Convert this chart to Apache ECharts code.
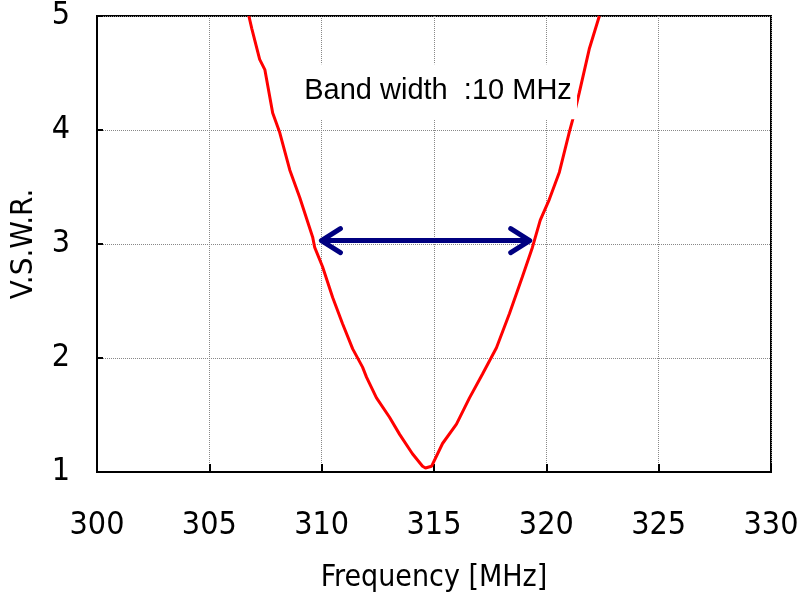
<!DOCTYPE html>
<html>
<head>
<meta charset="utf-8">
<script src="https://cdn.jsdelivr.net/npm/echarts@6/dist/echarts.min.js"></script>
<style>html,body{margin:0;padding:0;background:#fff}#c{width:811px;height:595px}</style>
</head>
<body>
<div id="c"></div>
<script>
var freq = [306.76,306.89,307.24,307.47,307.82,308.13,308.58,309.02,309.60,309.69,310.04,310.49,310.93,311.38,311.82,312.00,312.44,313.02,313.47,314.04,314.49,314.62,314.89,315.38,316.00,316.58,317.16,317.78,318.36,318.93,319.38,319.73,320.13,320.58,321.02,321.24,321.47,321.91,322.36];
var vswr = [5.00,4.89,4.62,4.53,4.15,3.98,3.65,3.41,3.06,2.97,2.80,2.53,2.30,2.08,1.92,1.83,1.65,1.48,1.33,1.16,1.05,1.035,1.05,1.25,1.42,1.65,1.86,2.09,2.39,2.71,2.97,3.21,3.39,3.63,3.98,4.14,4.33,4.71,5.00];
var xTicks = [300,305,310,315,320,325,330];
var yTicks = [1,2,3,4,5];
var arrowFreq = [309.9, 319.35];
var arrowVswr = 3.03;
var noteText = 'Band width  :10 MHz';
var notePos = [315.18, 4.34];

var NARROW = "'Liberation Sans Narrow','DejaVu Sans Condensed','Liberation Sans',sans-serif";
var chart = echarts.init(document.getElementById('c'), null, {renderer:'canvas'});
var lineData = freq.map(function(f,i){return [f, vswr[i]];});
chart.setOption({
  animation:false,
  backgroundColor:'#fff',
  grid:{left:97,right:40,top:16,bottom:123,containLabel:false,outerBoundsMode:'none',
    show:true,borderColor:'#000',borderWidth:2,backgroundColor:'transparent'},
  xAxis:{type:'value',min:xTicks[0],max:xTicks[xTicks.length-1],interval:5,
    name:'Frequency [MHz]',nameLocation:'middle',nameGap:91,
    nameTextStyle:{fontFamily:NARROW,fontSize:30,color:'#000'},
    axisLine:{lineStyle:{color:'#000',width:2}},
    axisTick:{inside:true,length:8,lineStyle:{color:'#000',width:2}},
    axisLabel:{margin:38,fontFamily:NARROW,fontSize:32,color:'#000'},
    splitLine:{show:true,lineStyle:{color:'#888',type:[1,1],width:1}}},
  yAxis:{type:'value',min:yTicks[0],max:yTicks[yTicks.length-1],interval:1,
    name:'V.S.W.R.',nameLocation:'middle',nameGap:58,nameRotate:90,
    nameTextStyle:{fontFamily:NARROW,fontSize:31,color:'#000'},
    axisLine:{lineStyle:{color:'#000',width:2}},
    axisTick:{inside:true,length:6,lineStyle:{color:'#000',width:2}},
    axisLabel:{margin:27,fontFamily:NARROW,fontSize:32,color:'#000'},
    splitLine:{show:true,lineStyle:{color:'#888',type:[1,1],width:1}}},
  series:[
    {type:'line',data:lineData,showSymbol:false,symbol:'none',smooth:false,clip:true,
     lineStyle:{color:'#ff0000',width:3},z:3},
    {type:'custom',coordinateSystem:'cartesian2d',z:10,clip:false,
     data:[[arrowFreq[0],arrowVswr,arrowFreq[1],notePos[0],notePos[1]]],
     renderItem:function(params,api){
       var p1 = api.coord([api.value(0),api.value(1)]);
       var p2 = api.coord([api.value(2),api.value(1)]);
       var pn = api.coord([api.value(3),api.value(4)]);
       var h = 12, w = 21;
       var st = {stroke:'#000080',lineWidth:5,lineCap:'round',lineJoin:'round',fill:null};
       return {type:'group',children:[
         {type:'rect',shape:{x:pn[0]-139,y:pn[1]-27,width:278,height:55},style:{fill:'#fff'}},
         {type:'text',style:{text:noteText,x:pn[0],y:pn[1],align:'center',verticalAlign:'middle',
           font:"29px 'Liberation Sans',Arial,sans-serif",fill:'#000'}},
         {type:'line',shape:{x1:p1[0]+3,y1:p1[1],x2:p2[0]-3,y2:p2[1]},style:st},
         {type:'polyline',shape:{points:[[p1[0]+w,p1[1]-h],[p1[0]+2,p1[1]],[p1[0]+w,p1[1]+h]]},style:st},
         {type:'polyline',shape:{points:[[p2[0]-w,p2[1]-h],[p2[0]-2,p2[1]],[p2[0]-w,p2[1]+h]]},style:st}
       ]};
     }}
  ]
});
</script>
</body>
</html>
